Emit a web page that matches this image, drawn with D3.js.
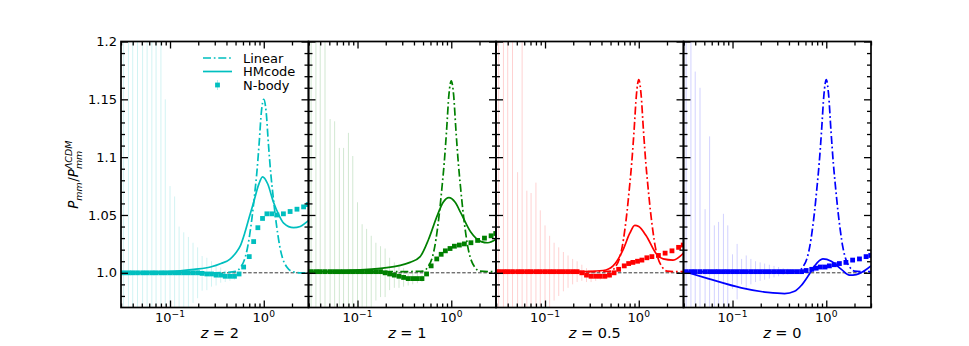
<!DOCTYPE html>
<html>
<head>
<meta charset="utf-8">
<script src="https://cdn.jsdelivr.net/npm/d3@7"></script>
<style>
  body { margin: 0; background: #fff; }
  svg { font-family: 'DejaVu Sans', sans-serif; }
</style>
</head>
<body>
<svg width="969" height="346"></svg>
<script>
// ---- data ----
const redshifts = ['2', '1', '0.5', '0'];
const colours = ['#00bfbf', '#008000', '#ff0000', '#0000ff'];
const legendLabels = ['Linear', 'HMcode', 'N-body'];

const kDomain = [0.03, 3];
const ratioDomain = [0.97, 1.2];
const xMajor = [0.1, 1];
const xTickLabels = [['10', '\u22121'], ['10', '0']];
const xMinor = [0.03, 0.04, 0.05, 0.06, 0.07, 0.08, 0.09, 0.2, 0.3, 0.4, 0.5, 0.6, 0.7, 0.8, 0.9, 2, 3];
const yMajor = [1.0, 1.05, 1.1, 1.15, 1.2];
const yTickLabels = ['1.0', '1.05', '1.1', '1.15', '1.2'];
const yMinor = [0.98, 0.99, 1.01, 1.02, 1.03, 1.04, 1.06, 1.07, 1.08, 1.09, 1.11, 1.12, 1.13, 1.14, 1.16, 1.17, 1.18, 1.19];

// linear theory
const linK = [0.03, 0.1, 0.2, 0.3, 0.4, 0.501, 0.562, 0.631, 0.668, 0.708, 0.750, 0.794, 0.841, 0.891, 0.944, 1.0,
  1.059, 1.122, 1.189, 1.259, 1.334, 1.413, 1.496, 1.585, 1.778, 1.995, 2.5, 3.0];
const linZ2 = [1.0, 1.0, 1.0, 1.0, 1.0003, 1.0012, 1.0045, 1.0128, 1.021, 1.033, 1.048, 1.066, 1.0855, 1.111, 1.1395, 1.15,
  1.1395, 1.111, 1.0855, 1.066, 1.048, 1.033, 1.021, 1.0128, 1.0045, 1.0012, 1.0, 1.0];
const linZ1 = [1.001, 1.001, 1.001, 1.001, 1.0012, 1.0015, 1.005, 1.014, 1.023, 1.0365, 1.053, 1.073, 1.095, 1.123, 1.154, 1.166,
  1.154, 1.123, 1.095, 1.073, 1.053, 1.0365, 1.023, 1.014, 1.005, 1.0015, 1.001, 1.001];
const linZ05 = [1.001, 1.001, 1.001, 1.001, 1.0012, 1.0015, 1.005, 1.014, 1.023, 1.0365, 1.053, 1.073, 1.095, 1.123, 1.154, 1.167,
  1.154, 1.123, 1.095, 1.073, 1.053, 1.0365, 1.023, 1.014, 1.005, 1.0015, 1.001, 1.001];
const linZ0 = [1.001, 1.001, 1.001, 1.001, 1.0012, 1.0015, 1.005, 1.014, 1.023, 1.0365, 1.053, 1.073, 1.095, 1.123, 1.154, 1.167,
  1.154, 1.123, 1.095, 1.073, 1.053, 1.0365, 1.023, 1.014, 1.005, 1.0015, 1.001, 1.001];

// HMcode
const hmKZ2 = [0.03, 0.1, 0.18, 0.27, 0.35, 0.44, 0.5, 0.56, 0.63, 0.7, 0.78, 0.88, 0.97, 1.1, 1.27, 1.45, 1.63, 2.08, 2.45, 2.88, 3.0];
const hmZ2 = [1.0, 1.001, 1.003, 1.005, 1.008, 1.012, 1.017, 1.023, 1.035, 1.048, 1.061, 1.076, 1.083, 1.077, 1.061, 1.05, 1.043, 1.039, 1.040, 1.044, 1.045];
const hmKZ1 = [0.03, 0.081, 0.186, 0.363, 0.466, 0.573, 0.705, 0.82, 0.944, 1.1, 1.26, 1.62, 2.08, 2.45, 3.0];
const hmZ1 = [1.001, 1.002, 1.004, 1.009, 1.014, 1.029, 1.049, 1.061, 1.065, 1.061, 1.052, 1.035, 1.027, 1.026, 1.029];
const hmKZ05 = [0.03, 0.1, 0.25, 0.417, 0.532, 0.681, 0.8, 0.906, 1.0, 1.2, 1.55, 1.82, 2.32, 3.0];
const hmZ05 = [1.001, 1.001, 1.001, 1.002, 1.006, 1.02, 1.034, 1.041, 1.040, 1.032, 1.016, 1.012, 1.011, 1.017];
const hmKZ0 = [0.031, 0.055, 0.124, 0.238, 0.359, 0.459, 0.541, 0.637, 0.75, 0.92, 1.13, 1.45, 1.77, 2.09, 2.57, 3.0];
const hmZ0 = [1.001, 0.995, 0.987, 0.983, 0.982, 0.984, 0.989, 0.997, 1.006, 1.012, 1.010, 1.003, 0.998, 0.9985, 1.002, 1.006];

// N-body measurements and their errors
const nbodyK = [0.032, 0.036, 0.040, 0.045, 0.051, 0.057, 0.064, 0.071, 0.080, 0.089, 0.100, 0.112, 0.125, 0.140, 0.157,
  0.176, 0.197, 0.220, 0.247, 0.277, 0.310, 0.347, 0.388, 0.435, 0.487, 0.545, 0.610, 0.700, 0.780, 0.865, 0.970,
  1.08, 1.22, 1.38, 1.62, 1.91, 2.26, 2.66, 2.98];
const nbodyZ2 = [1.0, 1.0, 1.0, 1.0, 1.0, 1.0, 1.0, 1.0, 1.0, 1.0, 1.0, 1.0, 1.0, 1.0, 1.0, 1.0, 1.0, 0.9995, 0.999, 0.999,
  0.998, 0.998, 0.997, 0.997, 0.997, 0.999, 1.005, 1.014, 1.027, 1.039, 1.047, 1.051, 1.051, 1.050, 1.051, 1.053, 1.055, 1.057, 1.059];
const nbodyZ1 = [1.001, 1.001, 1.001, 1.001, 1.001, 1.001, 1.001, 1.001, 1.001, 1.001, 1.001, 1.001, 1.001, 1.001, 1.001, 1.001,
  1.0, 0.999, 0.998, 0.997, 0.996, 0.995, 0.995, 0.995, 0.995, 0.999, 1.006, 1.012, 1.016, 1.019, 1.021, 1.023, 1.024, 1.025,
  1.026, 1.028, 1.030, 1.032, 1.034];
const nbodyZ05 = [1.001, 1.001, 1.001, 1.001, 1.001, 1.001, 1.001, 1.001, 1.001, 1.001, 1.001, 1.001, 1.001, 1.001, 1.001, 1.001,
  1.001, 1.001, 1.0, 0.998, 0.997, 0.997, 0.997, 0.997, 0.998, 1.0, 1.003, 1.006, 1.008, 1.009, 1.010, 1.011, 1.013, 1.014,
  1.015, 1.017, 1.019, 1.022, 1.024];
const nbodyZ0 = [1.001, 1.001, 1.001, 1.001, 1.001, 1.001, 1.001, 1.001, 1.001, 1.001, 1.001, 1.001, 1.001, 1.001, 1.001, 1.001,
  1.001, 1.001, 1.001, 1.001, 1.001, 1.001, 1.001, 1.001, 1.001, 1.001, 1.002, 1.003, 1.004, 1.005, 1.005, 1.006, 1.007, 1.008,
  1.009, 1.011, 1.012, 1.014, 1.015];
const errZ2 = [0.5, 0.5, 0.5, 0.4, 0.4, 0.3, 0.3, 0.25, 0.22, 0.15, 0.075, 0.066, 0.04, 0.035, 0.031, 0.026, 0.022, 0.015, 0.014,
  0.011, 0.009, 0.0066, 0.005, 0.004, 0.003, 0.002, 0.0015, 0.001, 0.001, 0.001, 0.001, 0.001, 0.001, 0.001, 0.001, 0.001, 0.001, 0.001, 0.001];
const errZ1 = [0.5, 0.5, 0.5, 0.45, 0.132, 0.13, 0.107, 0.107, 0.12, 0.1, 0.06, 0.041, 0.037, 0.031, 0.025, 0.022, 0.021, 0.014,
  0.011, 0.01, 0.008, 0.006, 0.005, 0.004, 0.003, 0.002, 0.0015, 0.001, 0.001, 0.001, 0.001, 0.001, 0.001, 0.001, 0.001, 0.001, 0.001, 0.001, 0.001];
const errZ05 = [0.5, 0.5, 0.5, 0.45, 0.086, 0.3, 0.07, 0.068, 0.077, 0.053, 0.04, 0.031, 0.025, 0.021, 0.017, 0.014, 0.011, 0.009,
  0.007, 0.006, 0.005, 0.004, 0.003, 0.0025, 0.002, 0.0015, 0.001, 0.001, 0.001, 0.001, 0.001, 0.001, 0.001, 0.001, 0.001, 0.001, 0.001, 0.001, 0.001];
const errZ0 = [0.3, 0.2, 0.173, 0.159, 0.054, 0.117, 0.04, 0.043, 0.05, 0.04, 0.015, 0.024, 0.011, 0.014, 0.011, 0.009, 0.008, 0.007,
  0.006, 0.005, 0.004, 0.003, 0.0025, 0.002, 0.0015, 0.001, 0.001, 0.001, 0.001, 0.001, 0.001, 0.001, 0.001, 0.001, 0.001, 0.001, 0.001, 0.001, 0.001];

// ---- layout ----
const svg = d3.select('svg');
svg.style('background-color', '#fff');
const margins = { top: 41.5, left: 121 };
const panelWidth = 187.5;
const panelHeight = 266;
const tickFont = 13;
const lineWidth = 1.7;
const dashDot = '8,2.8,1.7,2.8';

const panels = [
  { lin: linZ2, hmK: hmKZ2, hm: hmZ2, nb: nbodyZ2, err: errZ2 },
  { lin: linZ1, hmK: hmKZ1, hm: hmZ1, nb: nbodyZ1, err: errZ1 },
  { lin: linZ05, hmK: hmKZ05, hm: hmZ05, nb: nbodyZ05, err: errZ05 },
  { lin: linZ0, hmK: hmKZ0, hm: hmZ0, nb: nbodyZ0, err: errZ0 },
];

const xScale = d3.scaleLog().domain(kDomain).range([0, panelWidth]);
const yScale = d3.scaleLinear().domain(ratioDomain).range([panelHeight, 0]);

const lineGenerator = d3.line()
  .x(d => xScale(d[0]))
  .y(d => yScale(d[1]))
  .curve(d3.curveMonotoneX);

const drawTicks = (g, axisGen, transform) => {
  const a = g.append('g').attr('transform', transform).call(axisGen);
  a.select('.domain').remove();
  a.selectAll('.tick line').attr('stroke', '#000').attr('stroke-width', 1.3);
  return a;
};

function renderPanel(p, i) {
  const colour = colours[i];
  const g = svg.append('g')
    .attr('transform', `translate(${margins.left + i * panelWidth}, ${margins.top})`);

  g.append('clipPath').attr('id', `clip-${i}`)
    .append('rect').attr('width', panelWidth).attr('height', panelHeight);
  const plot = g.append('g').attr('clip-path', `url(#clip-${i})`);

  // error bars
  plot.selectAll('line.err')
    .data(nbodyK)
    .join('line')
      .attr('class', 'err')
      .attr('x1', k => xScale(k))
      .attr('x2', k => xScale(k))
      .attr('y1', (k, j) => yScale(p.nb[j] - p.err[j]))
      .attr('y2', (k, j) => yScale(p.nb[j] + p.err[j]))
      .attr('stroke', colour)
      .attr('stroke-opacity', 0.18)
      .attr('stroke-width', 1);

  // unity reference
  plot.append('line')
    .attr('x1', 0).attr('x2', panelWidth)
    .attr('y1', yScale(1)).attr('y2', yScale(1))
    .attr('stroke', '#222').attr('stroke-width', 0.9)
    .attr('stroke-dasharray', '3.5,1.8');

  // HMcode
  plot.append('path')
    .attr('d', lineGenerator(p.hmK.map((k, j) => [k, p.hm[j]])))
    .attr('fill', 'none').attr('stroke', colour).attr('stroke-width', lineWidth);

  // linear
  plot.append('path')
    .attr('d', lineGenerator(linK.map((k, j) => [k, p.lin[j]])))
    .attr('fill', 'none').attr('stroke', colour).attr('stroke-width', lineWidth)
    .attr('stroke-dasharray', dashDot);

  // N-body points
  const s = 4.8;
  plot.selectAll('rect.point')
    .data(nbodyK)
    .join('rect')
      .attr('class', 'point')
      .attr('x', k => xScale(k) - s / 2)
      .attr('y', (k, j) => yScale(p.nb[j]) - s / 2)
      .attr('width', s).attr('height', s)
      .attr('fill', colour);

  // ticks on all four sides, pointing in
  drawTicks(g, d3.axisBottom(xScale).tickValues(xMajor).tickSize(-7).tickFormat(''), `translate(0, ${panelHeight})`);
  drawTicks(g, d3.axisBottom(xScale).tickValues(xMinor).tickSize(-4).tickFormat(''), `translate(0, ${panelHeight})`);
  drawTicks(g, d3.axisTop(xScale).tickValues(xMajor).tickSize(-7).tickFormat(''), 'translate(0, 0)');
  drawTicks(g, d3.axisTop(xScale).tickValues(xMinor).tickSize(-4).tickFormat(''), 'translate(0, 0)');
  const yAxis = drawTicks(g, d3.axisLeft(yScale).tickValues(yMajor).tickSize(-7).tickPadding(4)
    .tickFormat((d, j) => (i === 0 ? yTickLabels[j] : '')), 'translate(0, 0)');
  yAxis.selectAll('text').attr('font-family', 'DejaVu Sans').attr('font-size', tickFont).attr('fill', '#000');
  drawTicks(g, d3.axisLeft(yScale).tickValues(yMinor).tickSize(-4).tickFormat(''), 'translate(0, 0)');
  drawTicks(g, d3.axisRight(yScale).tickValues(yMajor).tickSize(-7).tickFormat(''), `translate(${panelWidth}, 0)`);
  drawTicks(g, d3.axisRight(yScale).tickValues(yMinor).tickSize(-4).tickFormat(''), `translate(${panelWidth}, 0)`);

  // x tick labels 10^n
  xMajor.forEach((k, j) => {
    const t = g.append('text')
      .attr('x', xScale(k)).attr('y', panelHeight + 14.5)
      .attr('text-anchor', 'middle')
      .attr('font-size', tickFont);
    t.append('tspan').text(xTickLabels[j][0]);
    t.append('tspan').attr('dy', -5).attr('font-size', tickFont * 0.7).text(xTickLabels[j][1]);
  });

  // frame
  g.append('rect')
    .attr('width', panelWidth).attr('height', panelHeight)
    .attr('fill', 'none').attr('stroke', '#000').attr('stroke-width', 1.7);

  // redshift label
  const zl = g.append('text')
    .attr('x', panelWidth / 2 + 5).attr('y', panelHeight + 30)
    .attr('text-anchor', 'middle').attr('font-size', 14.5);
  zl.append('tspan').attr('font-style', 'italic').text('z');
  zl.append('tspan').text(` = ${redshifts[i]}`);

  if (i === 0) renderLegend(g, colour);
}

function renderLegend(g, colour) {
  const x0 = 82, x1 = 111, tx = 122;
  const rows = [16.5, 30, 43.5];
  g.append('line').attr('x1', x0).attr('x2', x1).attr('y1', rows[0]).attr('y2', rows[0])
    .attr('stroke', colour).attr('stroke-width', lineWidth).attr('stroke-dasharray', dashDot);
  g.append('line').attr('x1', x0).attr('x2', x1).attr('y1', rows[1]).attr('y2', rows[1])
    .attr('stroke', colour).attr('stroke-width', lineWidth);
  const mx = (x0 + x1) / 2;
  g.append('line').attr('x1', mx).attr('x2', mx).attr('y1', rows[2] - 5).attr('y2', rows[2] + 5)
    .attr('stroke', colour).attr('stroke-opacity', 0.3);
  g.append('rect').attr('x', mx - 2.4).attr('y', rows[2] - 2.4).attr('width', 4.8).attr('height', 4.8).attr('fill', colour);
  legendLabels.forEach((lab, j) => {
    g.append('text').attr('x', tx).attr('y', rows[j]).attr('dy', '0.35em')
      .attr('font-size', 13).text(lab);
  });
}

panels.forEach(renderPanel);

// y axis label: P_mm / P_mm^{ΛCDM}
const renderYLabel = () => {
  const size = 13.5;
  const outer = svg.append('g').attr('transform', `translate(78, ${margins.top + panelHeight / 2}) rotate(-90)`);
  const inner = outer.append('g');
  const pieces = [
    { t: 'P', italic: true },
    { t: 'mm', italic: true, shift: 3.5 },
    { t: '/', italic: false },
    { t: 'P', italic: true },
    { t: 'mm', italic: true, shift: 3.5 },
    { t: '\u039BCDM', italic: true, shift: -6, stack: true },
  ];
  let cursor = 0, lastStart = 0;
  pieces.forEach(p => {
    const fs = p.shift ? size * 0.7 : size;
    const start = p.stack ? lastStart : cursor;
    const t = inner.append('text')
      .attr('x', start).attr('y', p.shift || 0)
      .attr('font-size', fs)
      .attr('font-style', p.italic ? 'italic' : 'normal')
      .text(p.t);
    const w = t.node().getComputedTextLength();
    lastStart = start;
    cursor = Math.max(cursor, start + w + (p.shift ? 0.5 : 0));
  });
  inner.attr('transform', `translate(${-cursor / 2}, 0)`);
};
renderYLabel();
</script>
</body>
</html>
